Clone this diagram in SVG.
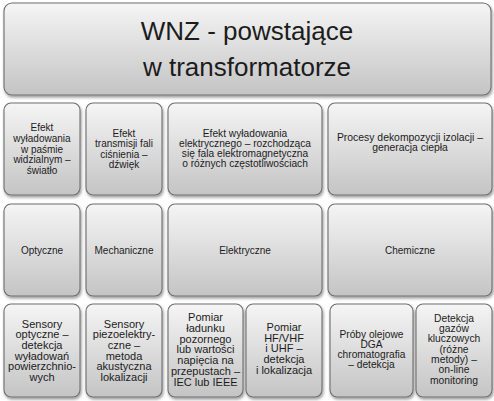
<svg xmlns="http://www.w3.org/2000/svg" width="494" height="401" viewBox="0 0 494 401">
<defs>
<linearGradient id="g" x1="0" y1="0" x2="0" y2="1">
<stop offset="0" stop-color="#f5f5f5"/>
<stop offset="1" stop-color="#c4c4c4"/>
</linearGradient>
<filter id="sh" x="-10%" y="-10%" width="125%" height="130%">
<feDropShadow dx="1" dy="2" stdDeviation="1.4" flood-color="#000" flood-opacity="0.4"/>
</filter>
<style>
.box{fill:url(#g);stroke:#6e6e6e;stroke-width:1.1;filter:url(#sh)}
.t{font-family:"Liberation Sans",Arial,sans-serif;fill:#1c1c1c;text-anchor:middle}
.h{font-size:26px}
.r1{font-size:10px}
.r2{font-size:10px}
.r3{font-size:11px}
</style>
</defs>
<rect width="494" height="401" fill="#ffffff"/>
<g id="title">
<rect class="box" x="4" y="3" width="487" height="92" rx="8"/>
<text class="t h" x="247" y="40">WNZ - powstające</text>
<text class="t h" x="247" y="76">w transformatorze</text>
</g>
<g id="efekt-swiatlo">
<rect class="box" x="4" y="103" width="76" height="92" rx="7"/>
<text class="t r1"><tspan x="42" y="131">Efekt</tspan><tspan x="42" y="141.8">wyładowania</tspan><tspan x="42" y="152.5">w paśmie</tspan><tspan x="42" y="163.3">widzialnym –</tspan><tspan x="42" y="174">światło</tspan></text>
</g>
<g id="efekt-dzwiek">
<rect class="box" x="86" y="103" width="76" height="92" rx="7"/>
<text class="t r1"><tspan x="124" y="137.1">Efekt</tspan><tspan x="124" y="147.3">transmisji fali</tspan><tspan x="124" y="157.5">ciśnienia –</tspan><tspan x="124" y="167.7">dźwięk</tspan></text>
</g>
<g id="efekt-em">
<rect class="box" x="168" y="103" width="154" height="92" rx="7"/>
<text class="t r1" style="font-size:10.2px"><tspan x="245" y="136.8">Efekt wyładowania</tspan><tspan x="245" y="147">elektrycznego – rozchodząca</tspan><tspan x="245" y="157.2">się fala elektromagnetyczna</tspan><tspan x="245" y="167.4">o różnych częstotliwościach</tspan></text>
</g>
<g id="procesy">
<rect class="box" x="328" y="103" width="164" height="92" rx="7"/>
<text class="t r1" style="font-size:10.4px"><tspan x="410" y="140.5">Procesy dekompozycji izolacji –</tspan><tspan x="410" y="151">generacja ciepła</tspan></text>
</g>
<g id="optyczne">
<rect class="box" x="4" y="204" width="76" height="92" rx="7"/>
<text class="t r2" x="42" y="254">Optyczne</text>
</g>
<g id="mechaniczne">
<rect class="box" x="86" y="204" width="76" height="92" rx="7"/>
<text class="t r2" x="124" y="254">Mechaniczne</text>
</g>
<g id="elektryczne">
<rect class="box" x="168" y="204" width="154" height="92" rx="7"/>
<text class="t r2" x="245" y="254">Elektryczne</text>
</g>
<g id="chemiczne">
<rect class="box" x="328" y="204" width="164" height="92" rx="7"/>
<text class="t r2" x="410" y="254">Chemiczne</text>
</g>
<g id="sensory-optyczne">
<rect class="box" x="4" y="304" width="76" height="93" rx="7"/>
<text class="t r3"><tspan x="42" y="327.7">Sensory</tspan><tspan x="42" y="338.4">optyczne –</tspan><tspan x="42" y="349">detekcja</tspan><tspan x="42" y="359.7">wyładowań</tspan><tspan x="42" y="370.3">powierzchnio-</tspan><tspan x="42" y="381">wych</tspan></text>
</g>
<g id="sensory-piezo">
<rect class="box" x="86" y="304" width="76" height="93" rx="7"/>
<text class="t r3"><tspan x="124" y="327.7">Sensory</tspan><tspan x="124" y="338.4">piezoelektry-</tspan><tspan x="124" y="349">czne –</tspan><tspan x="124" y="359.7">metoda</tspan><tspan x="124" y="370.3">akustyczna</tspan><tspan x="124" y="381">lokalizacji</tspan></text>
</g>
<g id="pomiar-ladunku">
<rect class="box" x="168" y="304" width="75" height="93" rx="7"/>
<text class="t r3"><tspan x="205.5" y="320.7">Pomiar</tspan><tspan x="205.5" y="331.6">ładunku</tspan><tspan x="205.5" y="342.5">pozornego</tspan><tspan x="205.5" y="353.4">lub wartości</tspan><tspan x="205.5" y="364.3">napięcia na</tspan><tspan x="205.5" y="375.2">przepustach –</tspan><tspan x="205.5" y="386">IEC lub IEEE</tspan></text>
</g>
<g id="pomiar-hf">
<rect class="box" x="246" y="304" width="76" height="93" rx="7"/>
<text class="t r3"><tspan x="284" y="330.7">Pomiar</tspan><tspan x="284" y="341.5">HF/VHF</tspan><tspan x="284" y="352.3">i UHF –</tspan><tspan x="284" y="363.2">detekcja</tspan><tspan x="284" y="374">i lokalizacja</tspan></text>
</g>
<g id="proby-olejowe">
<rect class="box" x="330" y="304" width="83" height="93" rx="7"/>
<text class="t" style="font-size:10.2px"><tspan x="371.5" y="337.5">Próby olejowe</tspan><tspan x="371.5" y="347.7">DGA</tspan><tspan x="371.5" y="357.9">chromatografia</tspan><tspan x="371.5" y="368.1">– detekcja</tspan></text>
</g>
<g id="detekcja-gazow">
<rect class="box" x="416" y="304" width="76" height="93" rx="7"/>
<text class="t" style="font-size:10.3px"><tspan x="454" y="321.8">Detekcja</tspan><tspan x="454" y="332.1">gazów</tspan><tspan x="454" y="342.4">kluczowych</tspan><tspan x="454" y="352.7">(różne</tspan><tspan x="454" y="363">metody) –</tspan><tspan x="454" y="373.3">on-line</tspan><tspan x="454" y="383.6">monitoring</tspan></text>
</g>
<g id="connectors"/>
</svg>
